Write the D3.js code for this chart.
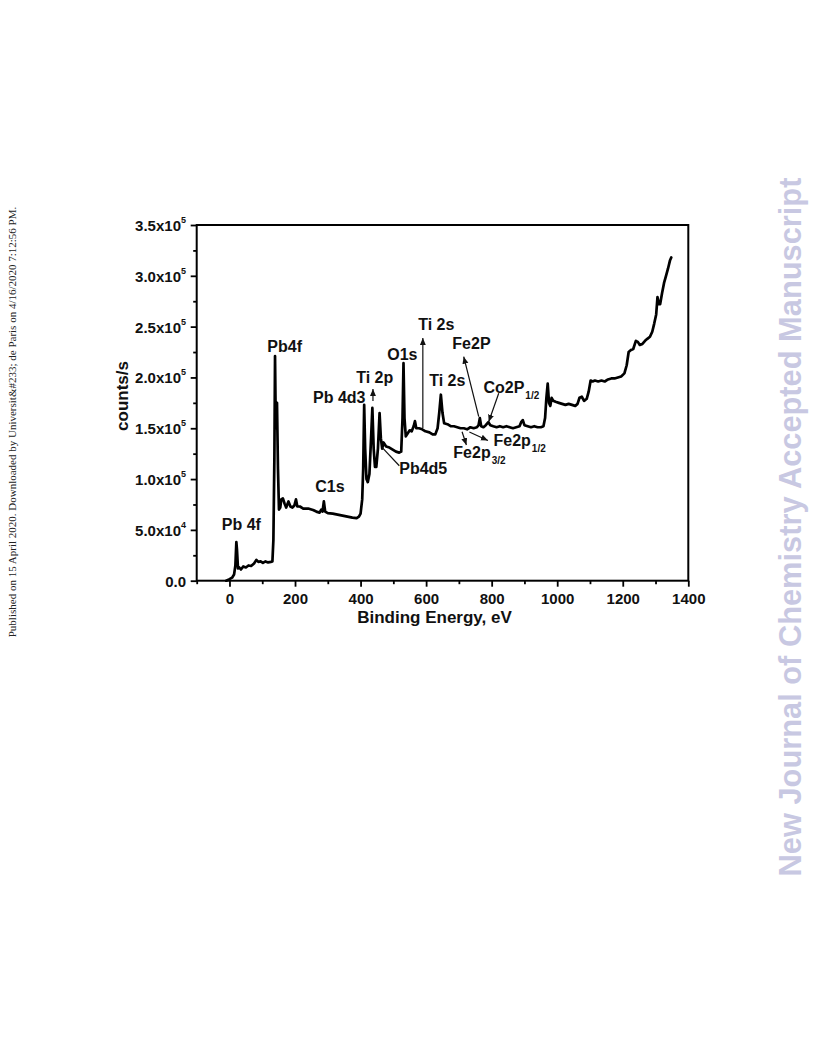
<!DOCTYPE html>
<html>
<head>
<meta charset="utf-8">
<script src="https://cdn.jsdelivr.net/npm/d3@7"></script>
<style>
  html, body { margin: 0; padding: 0; background: #fff; }
  svg { display: block; }
</style>
</head>
<body>
<svg id="chart" width="816" height="1056"></svg>
<script>
// ---------- data ----------
const energy = [-10,0,8,14,18,21,23,26,30,35,42,50,58,66,75,82,88,95,102,110,118,126,131,134,137,139,141,143,145,148,151,155,158,163,168,173,180,186,192,198,203,207,215,225,240,255,265,275,280,284,288,292,300,315,330,345,360,375,388,395,400,405,408,411,414,418,422,427,432,436,440,444,448,453,458,462,466,470,478,488,498,508,518,524,528,531,534,538,544,550,556,562,566,570,578,588,598,610,620,628,635,640,645,650,655,665,675,685,695,705,715,725,735,745,755,760,764,768,775,782,790,796,805,815,825,835,845,855,865,875,885,890,895,900,910,920,930,940,950,958,963,967,971,975,979,983,988,995,1005,1015,1025,1035,1045,1055,1062,1068,1075,1082,1090,1096,1102,1108,1115,1125,1135,1145,1155,1165,1175,1185,1195,1205,1212,1218,1225,1232,1240,1246,1252,1260,1268,1275,1283,1290,1296,1302,1306,1310,1314,1320,1326,1332,1338,1344,1348];
const counts = [0,1500,3000,6000,15000,38000,30000,12000,13000,11000,14000,13000,15000,14500,17000,20500,18500,19000,17500,19000,18000,18500,19000,40000,120000,221000,160000,150000,175000,110000,70000,72000,80000,81000,76000,72000,78000,73000,72000,74000,80000,73000,73000,71000,71000,69500,68000,67000,70000,68000,78000,68000,66500,66000,65000,64000,63000,62000,61500,63000,66000,80000,110000,173000,130000,100000,97000,105000,140000,170000,130000,112000,112000,130000,165000,140000,130000,136000,132000,131000,129000,127000,126000,127000,160000,214000,160000,142000,145000,148000,147000,152000,157000,150000,150000,149000,147000,146000,144000,144000,150000,165000,183000,165000,155000,154000,152000,152000,151000,150000,150000,149000,151000,150000,151000,153000,160000,152000,151000,153000,156000,153000,152000,151000,152000,151000,152000,151000,150000,151000,152000,156000,158000,153000,152000,151000,152000,151000,151000,152000,160000,180000,194000,175000,172000,180000,177000,176000,175000,174000,173000,174000,173000,172000,174000,180000,181000,177000,179000,186000,197000,196000,197000,196000,197000,196000,198000,199000,199000,200000,201000,204000,212000,225000,227000,228000,236000,235000,232000,233000,236000,238000,240000,245000,253000,262000,279000,272000,272000,283000,293000,300000,307000,315000,318000];

const xTicks = [0,200,400,600,800,1000,1200,1400];
const xMinorTicks = [-100,100,300,500,700,900,1100,1300];
const yTicks = [0,50000,100000,150000,200000,250000,300000,350000];
const yTickBase = ["0.0","5.0x10","1.0x10","1.5x10","2.0x10","2.5x10","3.0x10","3.5x10"];
const yTickExp = ["","4","5","5","5","5","5","5"];
const yMinorTicks = [25000,75000,125000,175000,225000,275000,325000];

// annotation labels: text, subscript, anchor (eV, counts)
const labelText = ["Pb 4f","Pb4f","C1s","Pb 4d3","Ti 2p","O1s","Ti 2s","Ti 2s","Fe2P","Co2P","Fe2p","Fe2p","Pb4d5"];
const labelSub  = ["","","","","","","","","","1/2","1/2","3/2",""];
const labelEV   = [-23.5,115.5,261.5,255,386.6,481.5,576,609.5,680,775,805.6,683,518];
const labelCnt  = [49900,225000,87300,174850,194500,217200,246700,191600,228000,184700,132500,121200,105000];

// arrows: from (eV,counts) to (eV,counts), head flag
const arrowX1 = [437.8,590,760.5,821.6,709.7,732,466.2];
const arrowY1 = [176800,150250,161400,184400,146600,146300,130900];
const arrowX2 = [437.8,590,714.7,791,722.9,788.6,518.2];
const arrowY2 = [188600,238800,220400,156450,133500,138000,113100];
const arrowHead = [true,true,true,true,true,true,false];

// ---------- drawing ----------
const svg = d3.select("#chart");
const L = 196.7, R = 688.3, T = 225, B = 580.7;
const x = d3.scaleLinear().domain([-100,1400]).range([L,R]);
const y = d3.scaleLinear().domain([0,350000]).range([B,T]);
const fontMain = "Arial, 'Liberation Sans', Helvetica, sans-serif";

// arrow marker
svg.append("defs").append("marker")
  .attr("id","arrow").attr("markerUnits","userSpaceOnUse")
  .attr("markerWidth",8).attr("markerHeight",7)
  .attr("refX",7).attr("refY",3).attr("orient","auto")
  .append("path").attr("d","M0,0 L7,3 L0,6 Z").attr("fill","#111");

// spectrum
const pts = energy.map((e,i)=>[e,counts[i]]);
svg.append("path")
  .datum(pts)
  .attr("d", d3.line().x(d=>x(d[0])).y(d=>y(d[1])))
  .attr("fill","none").attr("stroke","#000")
  .attr("stroke-width",2.7).attr("stroke-linejoin","round").attr("stroke-linecap","round");

// axes ticks
const gx = svg.append("g").attr("transform",`translate(0,${B})`);
gx.call(d3.axisBottom(x).tickValues(xTicks).tickSize(6).tickFormat(d3.format("d")).tickPadding(6));
const gxm = svg.append("g").attr("transform",`translate(0,${B})`);
gxm.call(d3.axisBottom(x).tickValues(xMinorTicks).tickSize(3.5).tickFormat(""));
const gy = svg.append("g").attr("transform",`translate(${L},0)`);
gy.call(d3.axisLeft(y).tickValues(yTicks).tickSize(6).tickFormat(""));
const gym = svg.append("g").attr("transform",`translate(${L},0)`);
gym.call(d3.axisLeft(y).tickValues(yMinorTicks).tickSize(3.5).tickFormat(""));
[gx,gxm,gy,gym].forEach(g=>{
  g.select(".domain").remove();
  g.selectAll(".tick line").attr("stroke","#000").attr("stroke-width",1.8);
});
gx.selectAll(".tick text")
  .attr("font-family",fontMain).attr("font-size",15).attr("font-weight","bold")
  .attr("fill","#111").attr("dy",null).attr("y",23.3);

// y tick labels with superscript
yTicks.forEach((v,i)=>{
  const t = svg.append("text")
    .attr("x",186).attr("y",y(v)+6)
    .attr("text-anchor","end")
    .attr("font-family",fontMain).attr("font-size",15).attr("font-weight","bold").attr("fill","#111");
  t.append("tspan").text(yTickBase[i]);
  if (yTickExp[i]) {
    t.append("tspan").attr("font-size",9).attr("dy",-8).text(yTickExp[i]);
  }
});

// frame
svg.append("rect").attr("x",L).attr("y",T).attr("width",R-L).attr("height",B-T)
  .attr("fill","none").attr("stroke","#000").attr("stroke-width",2);

// axis titles
svg.append("text").attr("x",(L+R)/2 - 8).attr("y",623)
  .attr("text-anchor","middle").attr("font-family",fontMain).attr("font-size",17)
  .attr("font-weight","bold").attr("fill","#111").text("Binding Energy, eV");
svg.append("text").attr("transform","translate(128,396) rotate(-90)")
  .attr("text-anchor","middle").attr("font-family",fontMain).attr("font-size",17)
  .attr("font-weight","bold").attr("fill","#111").text("counts/s");

// annotation labels
labelText.forEach((s,i)=>{
  const t = svg.append("text").attr("x",x(labelEV[i])).attr("y",y(labelCnt[i]))
    .attr("font-family",fontMain).attr("font-size",16).attr("font-weight","bold").attr("fill","#111");
  t.append("tspan").text(s);
  if (labelSub[i]) t.append("tspan").attr("font-size",10).attr("dy",6).attr("dx",1).text(labelSub[i]);
});

// arrows
arrowX1.forEach((v,i)=>{
  svg.append("line")
    .attr("x1",x(v)).attr("y1",y(arrowY1[i])).attr("x2",x(arrowX2[i])).attr("y2",y(arrowY2[i]))
    .attr("stroke","#111").attr("stroke-width",1.2)
    .attr("marker-end", arrowHead[i] ? "url(#arrow)" : null);
});

// side texts
svg.append("text").attr("transform","translate(16,422) rotate(-90)")
  .attr("text-anchor","middle").attr("font-family","'Liberation Serif','Times New Roman',serif")
  .attr("font-size",11).attr("fill","#222")
  .text("Published on 15 April 2020. Downloaded by Universit&#233; de Paris on 4/16/2020 7:12:56 PM.");
svg.append("text").attr("transform","translate(801,527) rotate(-90)")
  .attr("text-anchor","middle").attr("font-family",fontMain).attr("font-size",30.8)
  .attr("font-weight","bold").attr("fill","#c8c8e2")
  .text("New Journal of Chemistry Accepted Manuscript");
</script>
</body>
</html>
